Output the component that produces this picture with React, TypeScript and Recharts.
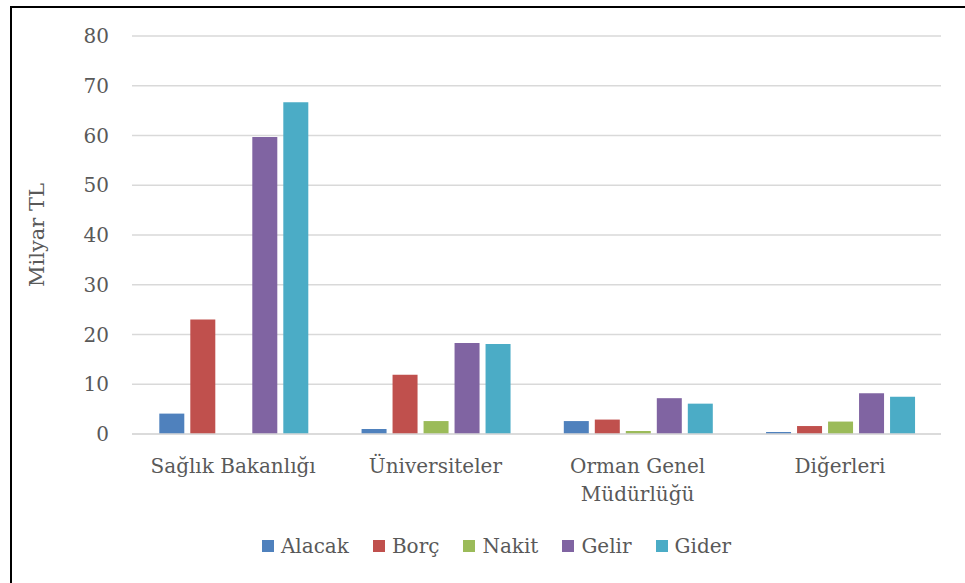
import { BarChart, Bar, XAxis, YAxis, CartesianGrid, Legend } from 'recharts'

const categories = ['Sağlık Bakanlığı', 'Üniversiteler', 'Orman Genel Müdürlüğü', 'Diğerleri']
const alacak = [4.1, 1.0, 2.6, 0.4]
const borc = [23.0, 11.9, 2.9, 1.6]
const nakit = [0, 2.6, 0.6, 2.5]
const gelir = [59.7, 18.3, 7.2, 8.2]
const gider = [66.7, 18.1, 6.1, 7.5]
const yTicks = [0, 10, 20, 30, 40, 50, 60, 70, 80]

const series = [
  { key: 'Alacak', color: '#4F81BD' },
  { key: 'Borç', color: '#C0504D' },
  { key: 'Nakit', color: '#9BBB59' },
  { key: 'Gelir', color: '#8064A2' },
  { key: 'Gider', color: '#4BACC6' },
]

const data = categories.map((name, i) => ({
  name,
  Alacak: alacak[i],
  'Borç': borc[i],
  Nakit: nakit[i],
  Gelir: gelir[i],
  Gider: gider[i],
}))

const FONT = '"DejaVu Serif", serif'
const TEXT = '#595959'

function wrapLabel(label: string, maxChars: number) {
  const lines: string[] = []
  let cur = ''
  for (const w of label.split(' ')) {
    const next = cur ? cur + ' ' + w : w
    if (next.length > maxChars && cur) {
      lines.push(cur)
      cur = w
    } else {
      cur = next
    }
  }
  if (cur) lines.push(cur)
  return lines
}

function CategoryTick({ x, y, payload }: { x?: number; y?: number; payload?: { value: string } }) {
  const lines = wrapLabel(payload?.value ?? '', 18)
  return (
    <text x={x} y={(y ?? 0) + 39} textAnchor="middle" fill={TEXT} fontSize={20} fontFamily={FONT}>
      {lines.map((l, i) => (
        <tspan key={i} x={x} dy={i === 0 ? 0 : 28}>{l}</tspan>
      ))}
    </text>
  )
}

function LegendContent() {
  return (
    <div style={{ display: 'flex', justifyContent: 'center', alignItems: 'center', height: 30, paddingLeft: 64, fontFamily: FONT, fontSize: 20, color: TEXT }}>
      {series.map(s => (
        <div key={s.key} style={{ display: 'flex', alignItems: 'center', marginRight: 24 }}>
          <span style={{ display: 'inline-block', width: 12, height: 12, background: s.color, marginRight: 7 }} />
          <span>{s.key}</span>
        </div>
      ))}
    </div>
  )
}

export default function App() {
  return (
    <div style={{ position: 'fixed', left: 10, top: 6, width: 960, height: 575, border: '2px solid #000', background: '#fff', overflow: 'hidden', fontFamily: FONT }}>
      <BarChart width={955} height={570} data={data} margin={{ top: 28, right: 26, left: 0, bottom: 17 }}
        barCategoryGap="13.5%" barGap={6}>
        <CartesianGrid vertical={false} stroke="#d9d9d9" strokeWidth={1.5} />
        <XAxis dataKey="name" height={97} interval={0} tickLine={false} tickSize={0} tickMargin={0}
          axisLine={{ stroke: '#d9d9d9', strokeWidth: 1.5 }} tick={<CategoryTick />} />
        <YAxis width={120} domain={[0, 80]} ticks={yTicks} axisLine={false} tickLine={false}
          tickSize={0} tickMargin={23}
          tick={{ fontSize: 20, fill: TEXT, fontFamily: FONT }}
          label={{
            content: ({ viewBox }: any) => {
              const cx = viewBox.x + 25
              const cy = viewBox.y + viewBox.height / 2
              return (
                <text x={cx} y={cy} transform={`rotate(-90 ${cx} ${cy})`} textAnchor="middle" dominantBaseline="central"
                  fill={TEXT} fontSize={21} fontFamily={FONT}>Milyar TL</text>
              )
            },
          }} />
        <Legend verticalAlign="bottom" content={<LegendContent />} />
        {series.map(s => (
          <Bar key={s.key} dataKey={s.key} fill={s.color} isAnimationActive={false} />
        ))}
      </BarChart>
    </div>
  )
}
